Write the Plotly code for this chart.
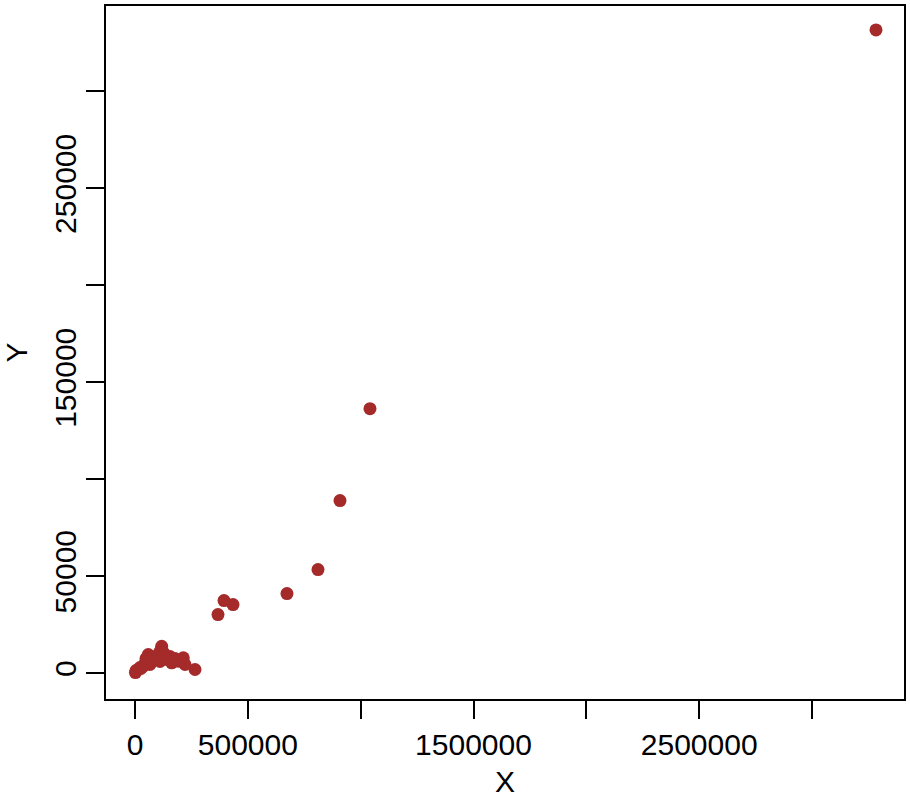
import plotly.graph_objects as go

x_vals = [3283600, 1041300, 908400, 810900, 673500, 434300, 394400, 367800, 265900,
          2000, 14600, 36800, 58900, 81100, 118300, 125400, 140500, 162600, 191900, 214000, 221600,
          4400, 22200, 44300, 66500, 88600, 101900, 110800, 132900, 155100, 177300, 66500, 110800,
          26600, 48700, 75300]
y_vals = [331700, 136400, 88960, 53400, 41030, 35360, 37420, 30200, 1860,
          300, 1860, 3560, 9590, 7890, 13860, 10460, 7010, 5310, 6130, 7890, 4430,
          1340, 2890, 4950, 6490, 7010, 8560, 11130, 9590, 8560, 7520, 4430, 5980,
          2370, 7520, 8560]

x_ticks = [0, 500000, 1000000, 1500000, 2000000, 2500000, 3000000]
x_ticktext = ["0", "500000", "", "1500000", "", "2500000", ""]
y_ticks = [0, 50000, 100000, 150000, 200000, 250000, 300000]
y_ticktext = ["0", "50000", "", "150000", "", "250000", ""]

fig = go.Figure()
fig.add_trace(go.Scatter(
    x=x_vals, y=y_vals, mode="markers",
    marker=dict(color="#a52a2a", size=13, line=dict(width=0)),
    showlegend=False,
))

font = dict(family="Liberation Sans, Arial, sans-serif", color="black")
fig.update_layout(
    width=910, height=798,
    margin=dict(l=106, r=6, t=6, b=99),
    paper_bgcolor="white", plot_bgcolor="white",
    font=font,
)
fig.update_xaxes(
    range=[-128500, 3407700], showgrid=False, zeroline=False, automargin=False,
    showline=True, linecolor="black", linewidth=2, mirror=True,
    ticks="outside", ticklen=18, tickwidth=2, tickcolor="black",
    tickvals=x_ticks, ticktext=x_ticktext, tickfont=dict(size=30, **font),
    ticklabelstandoff=0,
    title=dict(text="X", font=dict(size=30, **font), standoff=15),
)
fig.update_yaxes(
    range=[-13350, 344050], showgrid=False, zeroline=False, automargin=False,
    showline=True, linecolor="black", linewidth=2, mirror=True,
    ticks="outside", ticklen=18, tickwidth=2, tickcolor="black",
    tickvals=y_ticks, ticktext=y_ticktext, tickfont=dict(size=30, **font),
    tickangle=-90, ticklabelstandoff=-2,
    title=dict(text="Y", font=dict(size=30, **font), standoff=13),
)
fig.write_html("out.html", config={"displayModeBar": False},
               post_script="document.body.style.margin='0';document.body.style.overflow='hidden';")
